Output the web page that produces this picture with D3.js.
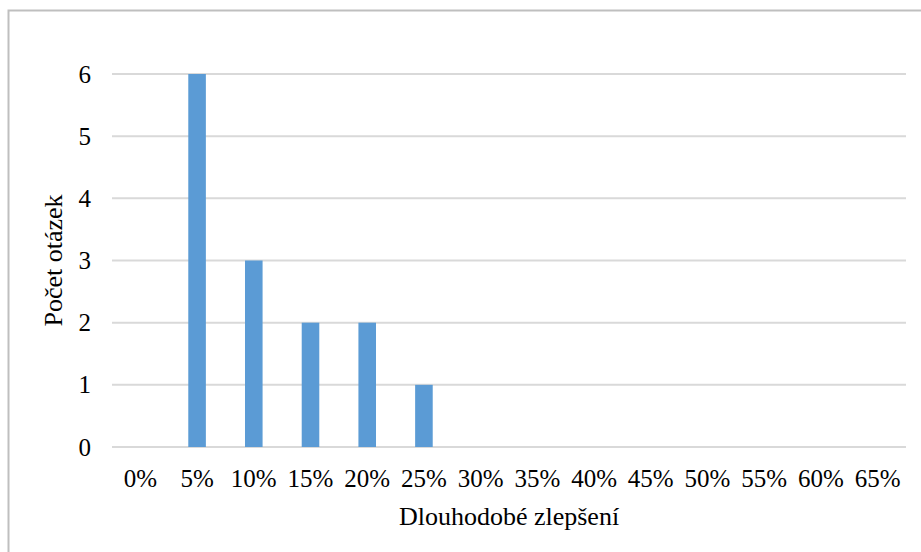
<!DOCTYPE html>
<html lang="cs">
<head>
	<meta charset="UTF-8"/>
	<title>Dlouhodobé zlepšení</title>
	<script src="https://d3js.org/d3.v7.min.js"></script>
	<style>
		body { margin: 0; background: #fff; }
		text { font-family: "Liberation Serif", "Times New Roman", serif; fill: #000; }
	</style>
</head>
<body>
<script>
	var w = 921;
	var h = 552;

	// data
	var categories = ["0%","5%","10%","15%","20%","25%","30%","35%","40%","45%","50%","55%","60%","65%"];
	var counts = [0, 6, 3, 2, 2, 1, 0, 0, 0, 0, 0, 0, 0, 0];
	var yTicks = [0, 1, 2, 3, 4, 5, 6];

	var plotLeft = 112, plotRight = 906, plotTop = 74, plotBottom = 447;

	var svg = d3.select("body")
				.append("svg")
				.attr("width", w)
				.attr("height", h);

	// chart border
	svg.append("rect")
		.attr("x", 8.5)
		.attr("y", 10.5)
		.attr("width", w + 10)
		.attr("height", h + 10)
		.attr("fill", "none")
		.attr("stroke", "#bfbfbf")
		.attr("stroke-width", 2);

	var xScale = d3.scaleBand()
				.domain(categories)
				.range([plotLeft, plotRight])
				.paddingInner(0.69)
				.paddingOuter(0.345);

	var yScale = d3.scaleLinear()
				.domain([0, 6])
				.range([plotBottom, plotTop]);

	//-------gridlines---------
	svg.selectAll("line.grid")
		.data(yTicks)
		.enter()
		.append("line")
		.attr("class", "grid")
		.attr("x1", plotLeft)
		.attr("x2", plotRight)
		.attr("y1", function(d){ return yScale(d); })
		.attr("y2", function(d){ return yScale(d); })
		.attr("stroke", "#d9d9d9")
		.attr("stroke-width", 2);

	//-------bars---------
	svg.selectAll("rect.bar")
		.data(counts)
		.enter()
		.append("rect")
		.attr("class", "bar")
		.attr("x", function(d, i){ return xScale(categories[i]); })
		.attr("y", function(d){ return yScale(d); })
		.attr("width", xScale.bandwidth())
		.attr("height", function(d){ return yScale(0) - yScale(d); })
		.attr("fill", "#5b9bd5");

	//-------y tick labels---------
	svg.selectAll("text.ytick")
		.data(yTicks)
		.enter()
		.append("text")
		.attr("class", "ytick")
		.attr("x", 91)
		.attr("y", function(d){ return yScale(d) + 8.5; })
		.attr("text-anchor", "end")
		.style("font-size", "25px")
		.text(function(d){ return d; });

	//-------x tick labels---------
	svg.selectAll("text.xtick")
		.data(categories)
		.enter()
		.append("text")
		.attr("class", "xtick")
		.attr("x", function(d){ return xScale(d) + xScale.bandwidth() / 2; })
		.attr("y", 487)
		.attr("text-anchor", "middle")
		.style("font-size", "25px")
		.text(function(d){ return d; });

	//-------axis titles---------
	svg.append("text")
		.attr("x", (plotLeft + plotRight) / 2)
		.attr("y", 525)
		.attr("text-anchor", "middle")
		.style("font-size", "26px")
		.text("Dlouhodobé zlepšení");

	svg.append("text")
		.attr("transform", "translate(62," + (plotTop + plotBottom) / 2 + ") rotate(-90)")
		.attr("text-anchor", "middle")
		.style("font-size", "26px")
		.text("Počet otázek");
</script>
</body>
</html>
